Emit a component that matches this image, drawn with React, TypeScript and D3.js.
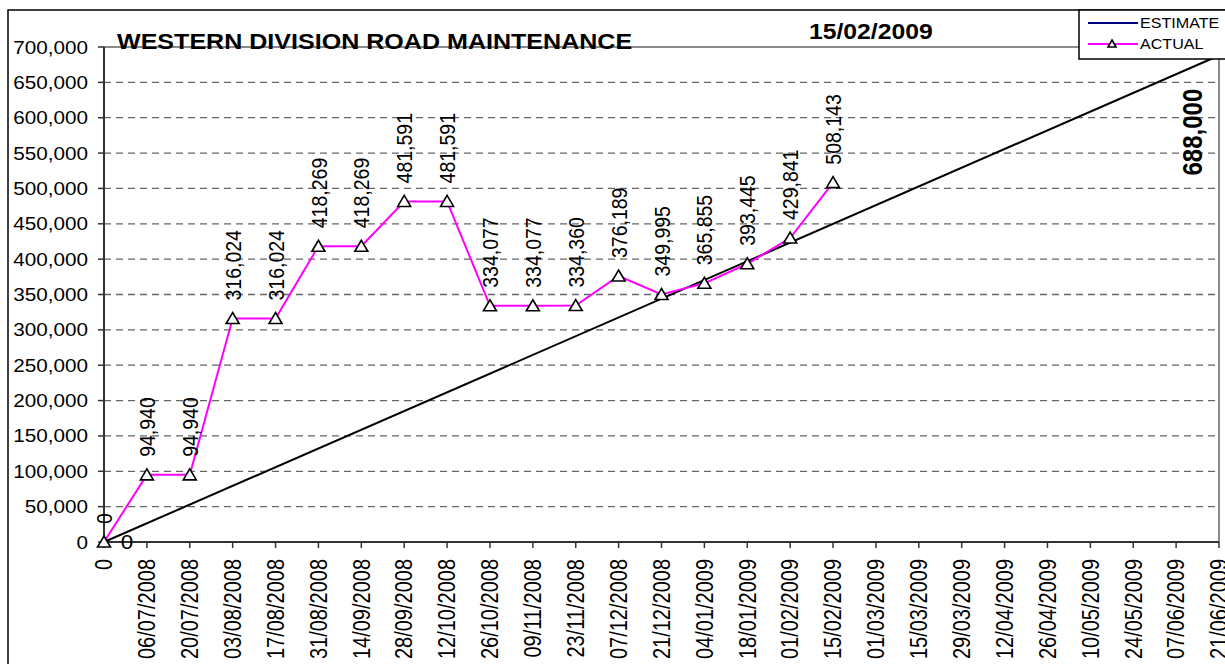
import React from "react";
import * as d3 from "d3";

const categories = [
  "0", "06/07/2008", "20/07/2008", "03/08/2008", "17/08/2008", "31/08/2008",
  "14/09/2008", "28/09/2008", "12/10/2008", "26/10/2008", "09/11/2008",
  "23/11/2008", "07/12/2008", "21/12/2008", "04/01/2009", "18/01/2009",
  "01/02/2009", "15/02/2009", "01/03/2009", "15/03/2009", "29/03/2009",
  "12/04/2009", "26/04/2009", "10/05/2009", "24/05/2009", "07/06/2009",
  "21/06/2009",
];

const actualValues = [
  0, 94940, 94940, 316024, 316024, 418269, 418269, 481591, 481591, 334077,
  334077, 334360, 376189, 349995, 365855, 393445, 429841, 508143,
];

const estimateCategories = ["0", "21/06/2009"];
const estimateValues = [0, 688000];

const yTicks = [0, 50000, 100000, 150000, 200000, 250000, 300000, 350000, 400000,
  450000, 500000, 550000, 600000, 650000, 700000];

const title = "WESTERN DIVISION ROAD MAINTENANCE";
const dateLabel = "15/02/2009";

const FONT = "'Liberation Sans', Arial, sans-serif";
const SX = 1.15;

export default function App() {
  const W = 1225, H = 664;
  const left = 104, right = 1219, top = 47, bottom = 542;
  const x = d3.scalePoint<string>().domain(categories).range([left, right]);
  const y = d3.scaleLinear().domain([0, 700000]).range([bottom, top]);
  const fmt = d3.format(",");

  const actualPts = actualValues.map((v, i) => [x(categories[i])!, y(v)] as [number, number]);
  const estPts = estimateValues.map((v, i) => [x(estimateCategories[i])!, y(v)] as [number, number]);
  const line = d3.line();

  const tri = (cx: number, cy: number, key: string) => (
    <path key={key}
      d={`M${cx},${cy - 6} L${cx + 6.5},${cy + 5} L${cx - 6.5},${cy + 5} Z`}
      fill="#fff" stroke="#000" strokeWidth={1.6} />
  );

  return (
    <svg width={W} height={H} style={{ position: "absolute", left: 0, top: 0, display: "block" }}
      fontFamily={FONT}>
      <rect x={0} y={0} width={W} height={H} fill="#fff" />
      {/* outer chart border */}
      <rect x={8} y={10} width={W + 20} height={H + 20} fill="none" stroke="#000" strokeWidth={1.5} />

      {/* gridlines */}
      {yTicks.filter(t => t > 0 && t < 700000).map(t => (
        <line key={"g" + t} x1={left} x2={right} y1={y(t)} y2={y(t)}
          stroke="#666" strokeWidth={1.3} strokeDasharray="7,5" />
      ))}
      {/* plot border top/right */}
      <line x1={left} x2={right} y1={top} y2={top} stroke="#8a8a8a" strokeWidth={2} />
      <line x1={right} x2={right} y1={top} y2={bottom} stroke="#8a8a8a" strokeWidth={2} />

      {/* axes */}
      <line x1={left} x2={left} y1={top} y2={bottom} stroke="#333" strokeWidth={2} />
      <line x1={left} x2={right} y1={bottom} y2={bottom} stroke="#333" strokeWidth={2} />
      {yTicks.map(t => (
        <g key={"yt" + t}>
          <line x1={left - 6} x2={left} y1={y(t)} y2={y(t)} stroke="#333" strokeWidth={1.5} />
          <text transform={`translate(88,${y(t) + 6.5}) scale(${SX},1)`} textAnchor="end"
            fontSize={18} fill="#000">{fmt(t)}</text>
        </g>
      ))}
      {categories.map(c => (
        <g key={"xt" + c}>
          <line x1={x(c)!} x2={x(c)!} y1={bottom} y2={bottom + 6} stroke="#333" strokeWidth={1.5} />
          <text transform={`translate(${x(c)!},559) scale(${SX},1) rotate(-90)`} textAnchor="end"
            dy="0.36em" fontSize={20} fill="#000">{c}</text>
        </g>
      ))}

      {/* estimate line */}
      <path d={line(estPts)!} fill="none" stroke="#000" strokeWidth={2} />

      {/* actual line */}
      <path d={line(actualPts)!} fill="none" stroke="#ff00ff" strokeWidth={2} />
      {actualPts.map((p, i) => tri(p[0], p[1], "m" + i))}

      {/* actual labels */}
      {actualPts.map((p, i) => (
        <text key={"al" + i} transform={`translate(${p[0]},${p[1] - 18}) scale(${SX},1) rotate(-90)`}
          textAnchor="start" dy="0.36em" fontSize={19.5} fill="#000">{fmt(actualValues[i])}</text>
      ))}

      {/* estimate labels */}
      <text transform={`translate(${estPts[0][0] + 23},${estPts[0][1] + 7}) scale(${SX},1)`}
        textAnchor="middle" fontSize={19.5} fill="#000">{fmt(estimateValues[0])}</text>
      <text transform={`translate(${estPts[1][0] - 27},${estPts[1][1] + 120}) scale(${SX},1) rotate(-90)`}
        textAnchor="start" dy="0.36em" fontSize={24} fontWeight="bold" fill="#000">{fmt(estimateValues[1])}</text>

      {/* title */}
      <text transform={`translate(117,49) scale(${SX},1)`} fontSize={21.8} fontWeight="bold" fill="#000">{title}</text>
      <text transform={`translate(809,39) scale(${SX},1)`} fontSize={21.5} fontWeight="bold" fill="#000">{dateLabel}</text>

      {/* legend */}
      <rect x={1079} y={10} width={150} height={49} fill="#fff" stroke="#000" strokeWidth={1.5} />
      <line x1={1088} x2={1138} y1={23} y2={23} stroke="#000080" strokeWidth={2} />
      <text transform={`translate(1140,28) scale(${SX},1)`} fontSize={14} fill="#000">ESTIMATE</text>
      <line x1={1088} x2={1138} y1={44} y2={44} stroke="#ff00ff" strokeWidth={2} />
      <path d={`M1112,40 L1116,47 L1108,47 Z`} fill="#fff" stroke="#000" strokeWidth={1.6} />
      <text transform={`translate(1140,49) scale(${SX},1)`} fontSize={14} fill="#000">ACTUAL</text>
    </svg>
  );
}
